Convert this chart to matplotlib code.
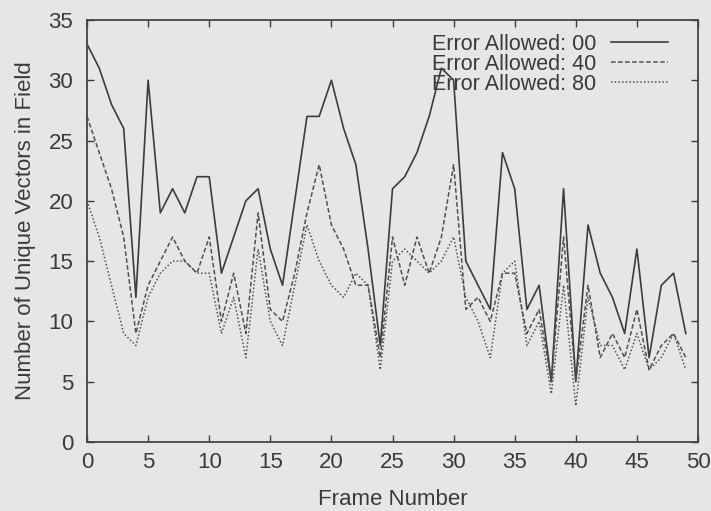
import matplotlib
matplotlib.use("Agg")
import matplotlib.pyplot as plt

plt.rcParams['font.family'] = ['Liberation Sans', 'DejaVu Sans']

frames = list(range(50))
err00 = [33, 31, 28, 26, 12, 30, 19, 21, 19, 22,
         22, 14, 17, 20, 21, 16, 13, 20, 27, 27,
         30, 26, 23, 16, 8, 21, 22, 24, 27, 31,
         30, 15, 13, 11, 24, 21, 11, 13, 5, 21,
         5, 18, 14, 12, 9, 16, 7, 13, 14, 9]
err40 = [27, 24, 21, 17, 9, 13, 15, 17, 15, 14,
         17, 10, 14, 9, 19, 11, 10, 14, 19, 23,
         18, 16, 13, 13, 7, 17, 13, 17, 14, 17,
         23, 11, 12, 10, 14, 14, 9, 11, 5, 17,
         5, 13, 7, 9, 7, 11, 6, 8, 9, 7]
err80 = [20, 17, 13, 9, 8, 12, 14, 15, 15, 14,
         14, 9, 12, 7, 16, 10, 8, 13, 18, 15,
         13, 12, 14, 13, 6, 15, 16, 15, 14, 15,
         17, 12, 10, 7, 14, 15, 8, 10, 4, 13,
         3, 12, 8, 8, 6, 9, 6, 7, 9, 6]
labels = ["Error Allowed: 00", "Error Allowed: 40", "Error Allowed: 80"]
xticks = [0, 5, 10, 15, 20, 25, 30, 35, 40, 45, 50]
yticks = [0, 5, 10, 15, 20, 25, 30, 35]

bg = '#e6e6e6'
ink = '#3a3a3a'

fig = plt.figure(figsize=(7.11, 5.11), dpi=100, facecolor=bg)
ax = fig.add_axes([0.1224, 0.135, 0.8593, 0.826], facecolor=bg)

ax.plot(frames, err00, color='#3c3c3c', lw=1.2, ls='-', label=labels[0])
ax.plot(frames, err40, color='#505050', lw=1.1, ls=(0, (3.0, 1.6)), label=labels[1])
ax.plot(frames, err80, color='#505050', lw=1.1, ls=(0, (1.0, 1.4)), label=labels[2])

ax.set_xlim(0, 50)
ax.set_ylim(0, 35)
ax.set_xticks(xticks)
ax.set_yticks(yticks)
ax.tick_params(direction='in', length=5, width=1.0, colors=ink,
               top=True, right=True, labelsize=16)
ax.tick_params(axis='y', pad=10)
ax.tick_params(axis='x', pad=7)
for s in ax.spines.values():
    s.set_color('#444444')
    s.set_linewidth(1.3)

ax.set_xlabel("Frame Number", fontsize=16, color=ink, labelpad=12)
ax.set_ylabel("Number of Unique Vectors in Field", fontsize=16, color=ink, labelpad=9)

leg = ax.legend(loc='upper right', bbox_to_anchor=(0.9615, 0.983),
                frameon=False, markerfirst=False,
                fontsize=15.5, handlelength=2.65, handletextpad=0.7,
                labelspacing=-0.04, borderaxespad=0.0, borderpad=0.3)
for t in leg.get_texts():
    t.set_color(ink)

fig.savefig("out.png", dpi=100, facecolor=bg)
